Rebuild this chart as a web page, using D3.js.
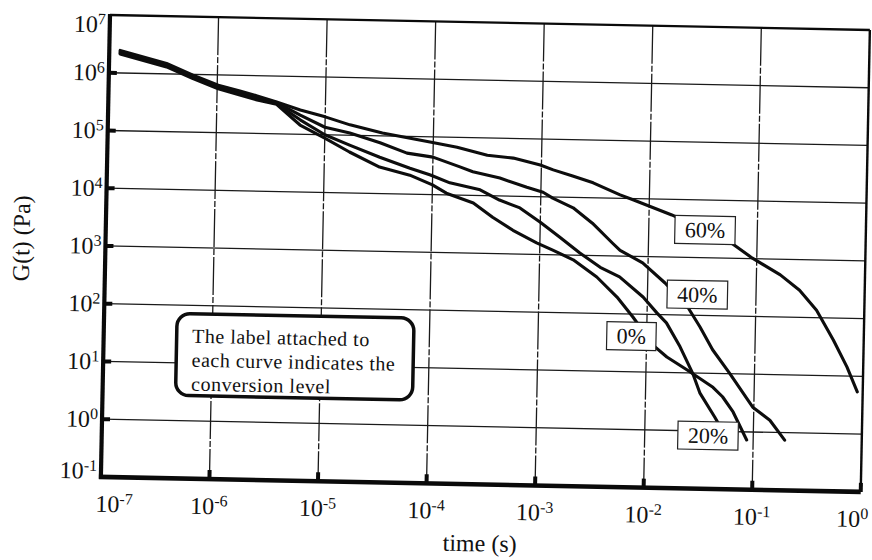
<!DOCTYPE html>
<html>
<head>
<meta charset="utf-8">
<script src="https://cdn.jsdelivr.net/npm/d3@7"></script>
<style>
  html, body { margin: 0; padding: 0; background: #fff; }
  svg { display: block; }
  text { font-family: "Liberation Serif", "Times New Roman", "DejaVu Serif", serif; fill: #111; }
</style>
</head>
<body>
<svg id="chart" width="872" height="560"></svg>
<script>
// Stress relaxation modulus G(t) for four conversion levels.
// Values are log10(time / s) and log10(G / Pa).
const conversionLabels = ["0%", "20%", "40%", "60%"];

const logTime0 = [-6.90, -6.47, -6.23, -5.99, -5.79, -5.63, -5.45, -5.23, -5.00, -4.77, -4.49, -4.21, -4.00, -3.87, -3.62, -3.44, -3.25, -3.03, -2.88, -2.69, -2.47, -2.28, -2.13, -2.03, -1.94, -1.81, -1.62, -1.38, -1.29, -1.19, -1.06];
const logG0    = [ 6.33,  6.12,  5.93,  5.76,  5.66,  5.58,  5.51,  5.16,  4.94,  4.71,  4.46,  4.33,  4.17,  4.03,  3.87,  3.63,  3.41,  3.20,  3.08,  2.92,  2.63,  2.29,  1.95,  1.70,  1.47,  1.27,  1.05,  0.76,  0.60,  0.34, -0.14];

const logTime20 = [-6.90, -6.47, -6.23, -5.99, -5.79, -5.63, -5.45, -5.23, -5.00, -4.77, -4.49, -4.21, -4.02, -3.84, -3.56, -3.38, -3.19, -3.00, -2.82, -2.63, -2.44, -2.26, -2.04, -1.91, -1.82, -1.69, -1.57, -1.50, -1.36, -1.26];
const logG20    = [ 6.35,  6.14,  5.95,  5.78,  5.68,  5.60,  5.52,  5.25,  5.00,  4.83,  4.63,  4.45,  4.34,  4.21,  4.10,  3.93,  3.80,  3.56,  3.31,  3.04,  2.80,  2.64,  2.30,  2.03,  1.86,  1.45,  1.00,  0.66,  0.25, -0.06];

const logTime40 = [-6.90, -6.47, -6.23, -5.99, -5.79, -5.63, -5.45, -5.23, -5.00, -4.77, -4.49, -4.24, -4.00, -3.75, -3.63, -3.38, -3.13, -2.98, -2.89, -2.70, -2.52, -2.33, -2.26, -2.05, -1.84, -1.62, -1.51, -1.39, -1.23, -1.07, -1.01, -0.85, -0.71];
const logG40    = [ 6.37,  6.16,  5.97,  5.80,  5.70,  5.62,  5.54,  5.33,  5.13,  5.04,  4.88,  4.71,  4.65,  4.49,  4.41,  4.31,  4.16,  4.08,  3.98,  3.82,  3.56,  3.22,  3.10,  2.89,  2.55,  2.12,  1.80,  1.41,  1.01,  0.59,  0.43,  0.21, -0.13];

const logTime60 = [-6.90, -6.47, -6.23, -5.99, -5.79, -5.63, -5.45, -5.23, -5.00, -4.77, -4.47, -4.03, -3.78, -3.50, -3.26, -3.01, -2.89, -2.71, -2.52, -2.27, -2.15, -1.79, -1.25, -1.04, -0.78, -0.60, -0.44, -0.28, -0.15, -0.05];
const logG60    = [ 6.39,  6.18,  5.99,  5.82,  5.73,  5.65,  5.55,  5.42,  5.31,  5.18,  5.05,  4.91,  4.83,  4.70,  4.66,  4.55,  4.47,  4.37,  4.26,  4.06,  3.98,  3.73,  3.28,  3.01,  2.73,  2.47,  2.13,  1.62,  1.16,  0.73];

// Where each conversion tag sits on its curve (time in s, G in Pa), same order as conversionLabels.
const labelTime = [0.00724, 0.0383, 0.0288, 0.0330];
const labelG    = [41.6, 0.836, 229, 3020];

const xTickExponents = [-7, -6, -5, -4, -3, -2, -1, 0];
const yTickExponents = [-1, 0, 1, 2, 3, 4, 5, 6, 7];

const noteLines = ["The label attached to", "each curve indicates the", "conversion level"];
const xTitle = "time (s)";
const yTitle = "G(t) (Pa)";

// ---- layout ----
const plotW = 760, plotH = 462;
const originX = 110, originY = 15;
const tilt = 1.13; // the printed figure sits slightly askew

const seriesLog = [
  [logTime0, logG0], [logTime20, logG20], [logTime40, logG40], [logTime60, logG60]
];
const series = seriesLog.map(([lt, lg]) => lt.map((v, i) => [Math.pow(10, v), Math.pow(10, lg[i])]));

const svg = d3.select("#chart");
svg.append("rect").attr("width", 872).attr("height", 560).attr("fill", "#fff");

const g = svg.append("g")
  .attr("transform", `translate(${originX},${originY}) rotate(${tilt})`);

const x = d3.scaleLog().domain([1e-7, 1]).range([0, plotW]);
const y = d3.scaleLog().domain([1e-1, 1e7]).range([plotH, 0]);

// grid
const grid = g.append("g").attr("stroke", "#1a1a1a").attr("stroke-width", 1.3);
grid.selectAll("line.v").data(xTickExponents.slice(1, -1)).join("line")
  .attr("x1", e => x(Math.pow(10, e))).attr("x2", e => x(Math.pow(10, e)))
  .attr("y1", 0).attr("y2", plotH)
  .attr("stroke-dasharray", "38,2,6,2");
grid.selectAll("line.h").data(yTickExponents.slice(1, -1)).join("line")
  .attr("x1", 0).attr("x2", plotW)
  .attr("y1", e => y(Math.pow(10, e))).attr("y2", e => y(Math.pow(10, e)));

// curves
const line = d3.line().x(d => x(d[0])).y(d => y(d[1]));
g.append("g").selectAll("path").data(series).join("path")
  .attr("d", line)
  .attr("fill", "none")
  .attr("stroke", "#0d0d0d")
  .attr("stroke-width", 3.1)
  .attr("stroke-linejoin", "round")
  .attr("stroke-linecap", "round");

// conversion tags
const tagFont = 22;
const tags = g.append("g");
conversionLabels.forEach((lab, i) => {
  const cx = x(labelTime[i]), cy = y(labelG[i]);
  const t = tags.append("g");
  const txt = t.append("text")
    .attr("x", cx).attr("y", cy + 7.5)
    .attr("text-anchor", "middle")
    .attr("font-size", tagFont)
    .text(lab);
  const w = txt.node().getComputedTextLength() + 20;
  const h = 28;
  t.insert("rect", "text")
    .attr("x", cx - w / 2).attr("y", cy - h / 2)
    .attr("width", w).attr("height", h)
    .attr("fill", "#fff")
    .attr("stroke", "#222")
    .attr("stroke-width", 1.2);
});

// note box
const note = g.append("g");
note.append("rect")
  .attr("x", 73).attr("y", 297).attr("width", 237).attr("height", 82)
  .attr("rx", 13).attr("ry", 13)
  .attr("fill", "#fff").attr("stroke", "#0d0d0d").attr("stroke-width", 3.5);
note.selectAll("text").data(noteLines).join("text")
  .attr("x", 88.5).attr("y", (d, i) => 326 + i * 24)
  .attr("font-size", 20)
  .attr("letter-spacing", 0.5)
  .text(d => d);

// frame
const frame = g.append("g").attr("stroke", "#0a0a0a").attr("fill", "none");
frame.append("line").attr("x1", 0).attr("x2", plotW).attr("y1", 0).attr("y2", 0).attr("stroke-width", 2.4);
frame.append("line").attr("x1", plotW).attr("x2", plotW).attr("y1", 0).attr("y2", plotH).attr("stroke-width", 2.4);
frame.append("line").attr("x1", 0).attr("x2", 0).attr("y1", -1).attr("y2", plotH + 2).attr("stroke-width", 4.2);
frame.append("line").attr("x1", -2).attr("x2", plotW).attr("y1", plotH).attr("y2", plotH).attr("stroke-width", 4.6);

// tick marks
frame.selectAll("line.xt").data(xTickExponents.slice(1)).join("line")
  .attr("x1", e => x(Math.pow(10, e))).attr("x2", e => x(Math.pow(10, e)))
  .attr("y1", plotH).attr("y2", plotH - 9).attr("stroke-width", 4);
frame.selectAll("line.yt").data(yTickExponents.slice(1, -1)).join("line")
  .attr("x1", 0).attr("x2", 8)
  .attr("y1", e => y(Math.pow(10, e))).attr("y2", e => y(Math.pow(10, e))).attr("stroke-width", 4);

// tick labels as 10 with a raised exponent
function powerLabel(sel, e) {
  sel.append("tspan").text("10");
  sel.append("tspan").attr("dy", -8).attr("font-size", 16).text(String(e));
}
const tickFont = 24;
xTickExponents.forEach((e, i) => {
  const t = g.append("text")
    .attr("y", plotH + 35)
    .attr("font-size", tickFont);
  if (i === 0) t.attr("x", -5).attr("text-anchor", "start");
  else if (i === xTickExponents.length - 1) t.attr("x", plotW + 8).attr("text-anchor", "end");
  else t.attr("x", x(Math.pow(10, e))).attr("text-anchor", "middle");
  powerLabel(t, e);
});
yTickExponents.forEach(e => {
  const yy = Math.min(Math.max(y(Math.pow(10, e)) + 8, 17.5), plotH + 2);
  const t = g.append("text")
    .attr("x", -4).attr("y", yy)
    .attr("text-anchor", "end")
    .attr("font-size", tickFont);
  powerLabel(t, e);
});

// axis titles
g.append("text")
  .attr("x", plotW / 2).attr("y", plotH + 67)
  .attr("text-anchor", "middle")
  .attr("font-size", 24)
  .text(xTitle);
g.append("text")
  .attr("transform", `translate(-84,225) rotate(-90)`)
  .attr("text-anchor", "middle")
  .attr("dominant-baseline", "central")
  .attr("font-size", 24)
  .text(yTitle);
</script>
</body>
</html>
